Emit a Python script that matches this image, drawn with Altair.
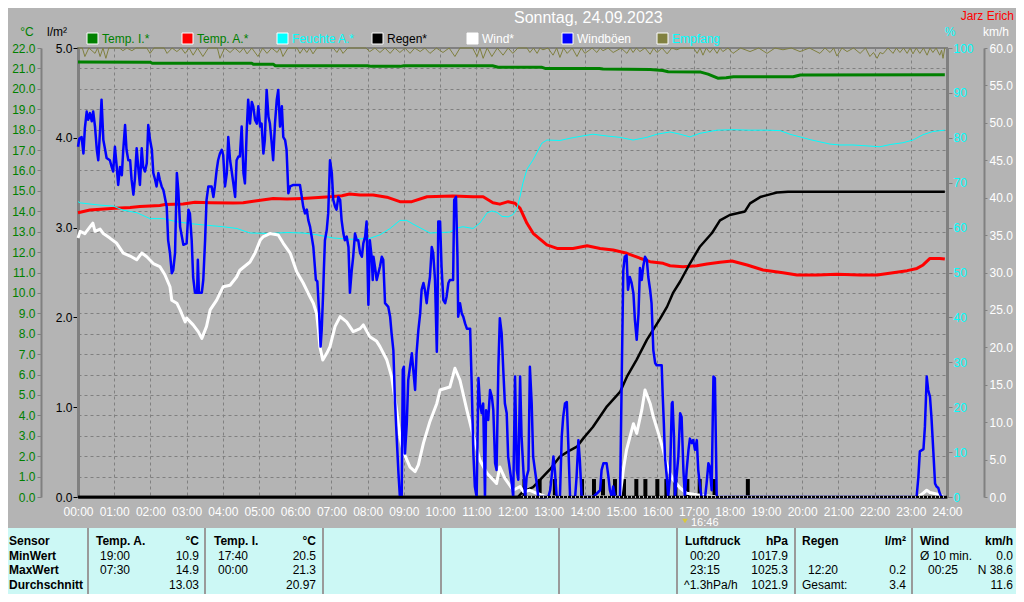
import altair as alt
import pandas as pd

# ---------------- data ----------------
hour_ticks = list(range(25))

temp_in = [(0, 21.31), (2.0, 21.3), (2.05, 21.25), (4.8, 21.25), (4.85, 21.2), (5.4, 21.2), (5.45, 21.13),
           (8.0, 21.13), (8.1, 21.1), (8.9, 21.1), (9.0, 21.13), (11.45, 21.13), (11.6, 21.06), (12.8, 21.06),
           (12.9, 21.0), (14.4, 21.0), (14.5, 20.97), (15.8, 20.95), (16.15, 20.9), (16.3, 20.84), (17.2, 20.82),
           (17.4, 20.72), (17.67, 20.52), (17.9, 20.54), (18.1, 20.59), (19.75, 20.59), (19.95, 20.68), (23.94, 20.69)]

temp_out = [(0, 13.93), (0.33, 14.06), (1.02, 14.15), (1.44, 14.18), (1.71, 14.23), (1.99, 14.26), (2.26, 14.28),
            (2.4, 14.33), (2.9, 14.36), (3.23, 14.44), (3.65, 14.42), (4.28, 14.4), (4.56, 14.42), (4.89, 14.5),
            (5.39, 14.63), (5.77, 14.6), (6.21, 14.63), (6.96, 14.71), (7.29, 14.76), (7.5, 14.85), (7.79, 14.8),
            (8.15, 14.8), (8.53, 14.69), (8.89, 14.47), (9.22, 14.47), (9.64, 14.71), (10.36, 14.75), (10.91, 14.71),
            (11.19, 14.71), (11.46, 14.42), (11.65, 14.35), (11.88, 14.47), (12.07, 14.39), (12.21, 14.14),
            (12.4, 13.41), (12.57, 12.92), (12.95, 12.35), (13.23, 12.18), (13.67, 12.18), (14.06, 12.31),
            (14.42, 12.18), (14.78, 12.1), (15.16, 11.94), (15.52, 11.7), (15.8, 11.53), (16.16, 11.45),
            (16.35, 11.33), (16.71, 11.28), (17.09, 11.33), (17.37, 11.42), (17.73, 11.5), (18.06, 11.56),
            (18.48, 11.37), (18.92, 11.12), (19.47, 10.99), (19.86, 10.88), (20.41, 10.88), (20.96, 10.91),
            (21.6, 10.88), (22.07, 10.88), (22.51, 10.99), (22.9, 11.09), (23.17, 11.2), (23.34, 11.37),
            (23.53, 11.69), (23.8, 11.69), (23.94, 11.66)]

humidity = [(0, 65.8), (0.06, 65.5), (0.61, 65.0), (0.97, 64.8), (1.24, 63.9), (1.63, 63.3), (1.99, 62.0),
            (2.35, 62.0), (2.73, 61.3), (3.09, 60.9), (3.45, 60.6), (4.0, 60.2), (4.39, 59.8), (4.75, 58.8),
            (5.3, 58.7), (5.77, 58.9), (6.21, 58.8), (6.6, 58.4), (7.04, 57.7), (7.51, 57.4), (8.06, 57.6),
            (8.34, 58.4), (8.62, 59.8), (8.89, 61.6), (9.08, 61.6), (9.25, 60.8), (9.53, 59.6), (9.72, 58.8),
            (10.0, 58.9), (10.27, 59.0), (10.47, 59.9), (10.63, 60.2), (10.91, 59.8), (11.1, 61.0), (11.3, 63.3),
            (11.43, 63.7), (11.57, 63.4), (11.71, 62.5), (11.88, 62.4), (12.01, 62.9), (12.12, 64.1),
            (12.21, 67.0), (12.29, 70.0), (12.4, 73.0), (12.57, 75.1), (12.81, 78.8), (12.95, 79.5),
            (13.31, 79.4), (13.59, 79.9), (13.86, 80.3), (14.22, 80.8), (14.61, 80.4), (14.97, 80.1),
            (15.33, 79.5), (15.71, 80.1), (15.99, 80.8), (16.35, 81.3), (16.63, 80.8), (16.9, 80.2),
            (17.18, 81.0), (17.65, 81.7), (18.09, 81.8), (18.56, 81.7), (19.03, 81.7), (19.39, 81.6),
            (19.66, 80.8), (19.94, 80.2), (20.22, 79.6), (20.49, 79.1), (20.77, 78.6), (21.04, 78.4),
            (21.4, 78.4), (21.79, 78.2), (22.15, 78.0), (22.43, 78.5), (22.78, 78.9), (23.06, 79.5),
            (23.34, 80.7), (23.61, 81.4), (23.94, 81.7)]

rain_total = [(0, 0), (12.15, 0), (12.29, 0.06), (12.57, 0.11), (12.76, 0.19), (13.04, 0.31), (13.31, 0.45),
              (13.59, 0.52), (13.78, 0.56), (13.95, 0.65), (14.22, 0.78), (14.61, 1.01), (14.97, 1.17),
              (15.16, 1.34), (15.43, 1.53), (15.71, 1.75), (16.07, 1.98), (16.27, 2.12), (16.43, 2.27),
              (16.63, 2.4), (16.9, 2.6), (17.18, 2.79), (17.51, 2.94), (17.73, 3.08), (18.0, 3.14),
              (18.42, 3.18), (18.56, 3.27), (18.84, 3.34), (19.11, 3.37), (19.3, 3.39), (19.61, 3.4), (23.94, 3.4)]

rain_bar_hours = [12.33, 12.75, 13.17, 13.92, 14.25, 14.5, 14.83, 15.08, 15.42, 15.67, 16.0, 16.25,
                  16.5, 16.83, 17.17, 17.58, 18.5]
rain_bar_values = [0.2] * 17

wind = [(0, 34.6), (0.06, 35.5), (0.19, 35.2), (0.33, 36.1), (0.41, 36.6), (0.47, 35.5), (0.61, 35.8),
        (0.7, 35.2), (0.88, 34.6), (1.07, 33.9), (1.25, 32.6), (1.44, 32.2), (1.62, 31.7), (1.76, 32.6),
        (1.9, 32.1), (2.08, 31.2), (2.26, 30.8), (2.4, 29.7), (2.54, 28.1), (2.59, 26.3), (2.73, 25.9),
        (2.82, 25.0), (2.96, 23.4), (3.0, 23.9), (3.18, 23.0), (3.32, 22.1), (3.42, 21.2), (3.55, 22.8),
        (3.65, 25.0), (3.83, 26.3), (4.01, 28.1), (4.2, 28.3), (4.38, 29.4), (4.47, 30.3), (4.75, 31.4),
        (4.89, 32.6), (5.03, 34.3), (5.12, 34.8), (5.3, 35.2), (5.53, 35.0), (5.67, 33.9), (5.86, 32.6),
        (6.04, 30.1), (6.22, 28.6), (6.36, 27.2), (6.5, 25.9), (6.59, 24.5), (6.64, 22.3), (6.68, 20.1),
        (6.76, 18.3), (6.87, 19.2), (6.96, 20.1), (7.1, 22.8), (7.24, 24.1), (7.42, 23.4), (7.6, 22.1),
        (7.79, 22.5), (7.88, 23.0), (8.06, 21.4), (8.25, 20.8), (8.34, 20.1), (8.53, 18.3), (8.66, 16.1),
        (8.8, 11.6), (8.89, 8.1), (8.98, 6.1), (9.17, 4.0), (9.31, 3.4), (9.4, 4.3), (9.54, 7.2),
        (9.72, 10.1), (9.91, 12.5), (10.0, 14.3), (10.27, 14.7), (10.41, 17.2), (10.55, 15.6), (10.74, 11.6),
        (10.92, 8.1), (11.1, 4.9), (11.29, 3.2), (11.56, 1.8), (11.65, 4.0), (11.79, 2.5), (12.02, 0.9),
        (12.21, 1.4), (12.3, 0.7), (12.48, 0.9), (12.67, 0.5), (12.94, 0), (14.91, 0), (14.97, 0.04),
        (15.06, 3.6), (15.15, 6.3), (15.34, 9.8), (15.43, 8.5), (15.57, 11.6), (15.66, 14.3), (15.8, 12.5),
        (15.89, 10.7), (16.03, 8.5), (16.16, 6.3), (16.3, 3.6), (16.44, 2.3), (16.63, 1.2), (16.81, 0.5),
        (17.09, 0.3), (17.45, 0.1), (18.19, 0), (23.2, 0), (23.34, 0.5), (23.44, 0.9), (23.53, 0.6),
        (23.8, 0.3), (23.94, 0)]

gusts = [(0, 46.8), (0.04, 47.9), (0.1, 48.1), (0.15, 45.9), (0.19, 49.3), (0.24, 51.5), (0.28, 50.4),
         (0.33, 51.3), (0.38, 50.2), (0.42, 51.5), (0.47, 49.5), (0.52, 46.4), (0.56, 45.0), (0.61, 49.0),
         (0.65, 53.1), (0.7, 47.7), (0.75, 46.4), (0.79, 45.3), (0.88, 45.0), (0.93, 44.1), (0.97, 43.5),
         (1.02, 46.8), (1.07, 44.1), (1.11, 41.7), (1.16, 44.1), (1.21, 43.0), (1.25, 46.4), (1.3, 49.7),
         (1.34, 46.4), (1.39, 45.0), (1.44, 45.0), (1.48, 42.4), (1.53, 40.4), (1.57, 42.4), (1.62, 46.6),
         (1.67, 43.7), (1.71, 41.7), (1.76, 46.6), (1.8, 44.1), (1.85, 43.5), (1.9, 44.6), (1.94, 49.7),
         (1.99, 47.7), (2.04, 46.4), (2.08, 43.3), (2.13, 42.4), (2.17, 41.5), (2.22, 43.3), (2.26, 42.4),
         (2.31, 41.5), (2.36, 41.0), (2.45, 38.8), (2.49, 34.3), (2.54, 32.6), (2.59, 29.9), (2.63, 30.3),
         (2.68, 32.6), (2.73, 43.3), (2.77, 41.0), (2.82, 36.1), (2.91, 33.7), (3.0, 33.9), (3.05, 38.4),
         (3.09, 37.9), (3.14, 34.3), (3.18, 29.4), (3.23, 27.3), (3.29, 27.3), (3.31, 31.7), (3.34, 27.3),
         (3.42, 27.3), (3.46, 29.0), (3.51, 34.3), (3.55, 39.7), (3.6, 41.5), (3.69, 41.5), (3.74, 40.1),
         (3.78, 41.5), (3.83, 43.7), (3.87, 45.0), (3.92, 45.9), (3.97, 46.4), (4.01, 45.7), (4.06, 41.5),
         (4.11, 43.3), (4.15, 48.1), (4.2, 45.0), (4.24, 43.7), (4.29, 41.9), (4.34, 40.1), (4.38, 45.0),
         (4.43, 45.5), (4.47, 45.5), (4.52, 49.5), (4.57, 43.3), (4.61, 41.9), (4.66, 49.0), (4.7, 53.1),
         (4.75, 49.9), (4.8, 52.8), (4.84, 52.2), (4.89, 50.4), (4.94, 49.9), (4.98, 52.2), (5.03, 49.5),
         (5.07, 49.9), (5.12, 45.9), (5.16, 47.7), (5.21, 54.4), (5.26, 50.8), (5.3, 49.9), (5.35, 47.3),
         (5.39, 45.0), (5.44, 49.9), (5.49, 53.1), (5.53, 54.4), (5.58, 49.5), (5.63, 52.2), (5.67, 48.1),
         (5.72, 47.7), (5.76, 46.4), (5.81, 40.6), (5.86, 41.5), (5.95, 41.7), (6.13, 41.7), (6.18, 40.1),
         (6.22, 38.8), (6.27, 37.9), (6.32, 38.4), (6.36, 37.0), (6.41, 36.1), (6.5, 33.4), (6.57, 29.0),
         (6.61, 28.8), (6.66, 24.5), (6.7, 20.1), (6.73, 22.3), (6.77, 27.2), (6.79, 30.3), (6.82, 34.3),
         (6.87, 35.7), (6.91, 37.9), (6.96, 45.0), (7.01, 43.3), (7.05, 39.7), (7.1, 38.8), (7.14, 38.4),
         (7.19, 40.1), (7.24, 39.7), (7.28, 37.0), (7.33, 35.2), (7.37, 34.3), (7.42, 34.8), (7.47, 33.4),
         (7.51, 27.3), (7.56, 30.3), (7.6, 32.1), (7.65, 35.2), (7.7, 34.3), (7.74, 34.3), (7.79, 32.6),
         (7.84, 32.1), (7.88, 33.9), (7.93, 34.8), (7.97, 36.8), (8.02, 25.7), (8.06, 34.3), (8.11, 32.1),
         (8.14, 29.0), (8.16, 32.1), (8.2, 30.8), (8.25, 29.0), (8.34, 30.8), (8.39, 32.1), (8.43, 31.7),
         (8.48, 25.9), (8.57, 25.4), (8.62, 24.1), (8.66, 21.9), (8.71, 19.6), (8.75, 13.4), (8.8, 8.1),
         (8.85, 3.2), (8.89, 0), (8.94, 0), (8.97, 17.0), (9.0, 17.4), (9.03, 5.8), (9.08, 9.8), (9.12, 15.6),
         (9.17, 17.4), (9.22, 19.2), (9.26, 17.0), (9.31, 14.3), (9.35, 19.2), (9.4, 22.3), (9.45, 24.5),
         (9.49, 27.7), (9.54, 28.6), (9.58, 27.7), (9.63, 25.9), (9.67, 27.7), (9.72, 29.4), (9.77, 33.4),
         (9.81, 32.6), (9.86, 29.0), (9.91, 19.4), (9.93, 25.0), (9.95, 36.8), (10.0, 36.8), (10.04, 30.8),
         (10.09, 26.3), (10.14, 25.9), (10.18, 26.8), (10.23, 28.6), (10.27, 29.0), (10.36, 29.0),
         (10.39, 39.7), (10.44, 40.1), (10.48, 32.1), (10.5, 24.1), (10.55, 25.9), (10.6, 24.5),
         (10.64, 24.1), (10.69, 23.2), (10.74, 22.5), (10.83, 22.5), (10.87, 15.6), (10.92, 5.8),
         (10.96, 1.4), (11.01, 0), (11.06, 15.9), (11.1, 12.5), (11.15, 11.2), (11.19, 12.5), (11.24, 0),
         (11.27, 11.6), (11.33, 10.3), (11.38, 14.3), (11.43, 13.4), (11.47, 11.6), (11.52, 4.5),
         (11.56, 3.6), (11.61, 17.4), (11.65, 23.9), (11.7, 21.9), (11.75, 16.5), (11.79, 12.5),
         (11.84, 11.2), (11.88, 5.4), (11.93, 3.6), (11.98, 1.8), (12.02, 0), (12.07, 16.1), (12.12, 3.6),
         (12.16, 2.3), (12.21, 16.1), (12.25, 8.1), (12.3, 3.6), (12.35, 0), (12.39, 2.7), (12.44, 3.6),
         (12.48, 17.4), (12.53, 12.5), (12.57, 5.4), (12.62, 3.6), (12.67, 1.8), (12.71, 0), (12.99, 0),
         (13.04, 0.9), (13.08, 2.7), (13.13, 5.4), (13.17, 3.6), (13.22, 0), (13.31, 0), (13.36, 8.1),
         (13.4, 10.7), (13.45, 12.5), (13.5, 12.7), (13.54, 7.2), (13.59, 0), (13.73, 0), (13.77, 2.7),
         (13.82, 7.6), (13.86, 4.9), (13.91, 0), (14.23, 0), (14.42, 0.9), (14.46, 3.6), (14.51, 4.5),
         (14.6, 4.5), (14.65, 2.7), (14.69, 0.9), (14.74, 0), (14.78, 1.4), (14.83, 0), (14.97, 0),
         (15.02, 17.0), (15.06, 30.3), (15.1, 32.1), (15.15, 32.3), (15.19, 27.7), (15.24, 29.4),
         (15.29, 28.6), (15.34, 27.2), (15.38, 23.7), (15.43, 21.0), (15.48, 24.5), (15.52, 30.6),
         (15.57, 29.0), (15.61, 30.8), (15.66, 32.1), (15.71, 31.7), (15.75, 29.4), (15.8, 27.7),
         (15.84, 25.9), (15.89, 19.6), (15.94, 17.9), (15.98, 17.6), (16.12, 17.6), (16.15, 13.4),
         (16.18, 9.8), (16.21, 5.4), (16.26, 2.7), (16.3, 0), (16.35, 2.7), (16.4, 12.5), (16.42, 12.7),
         (16.46, 8.1), (16.49, 0), (16.53, 2.7), (16.58, 5.4), (16.63, 11.2), (16.67, 10.7), (16.72, 3.6),
         (16.76, 0), (16.81, 3.6), (16.86, 6.3), (16.9, 7.8), (16.95, 7.2), (16.99, 7.6), (17.04, 6.3),
         (17.09, 7.6), (17.13, 3.6), (17.18, 1.4), (17.22, 0), (17.32, 0), (17.36, 1.8), (17.41, 4.5),
         (17.45, 4.0), (17.5, 0.9), (17.53, 10.3), (17.55, 16.1), (17.59, 15.9), (17.64, 0), (23.16, 0),
         (23.21, 2.7), (23.25, 6.1), (23.35, 6.4), (23.39, 9.4), (23.42, 13.4), (23.44, 16.1), (23.48, 14.3),
         (23.53, 13.4), (23.57, 10.7), (23.62, 6.3), (23.67, 1.8), (23.71, 1.4), (23.76, 1.2), (23.8, 0.5),
         (23.85, 0), (23.94, 0)]

reception = [(0, 100), (0.12, 100), (0.19, 98.1), (0.3, 100), (0.47, 98.8), (0.54, 100), (0.61, 98.1),
             (0.69, 100), (0.77, 97.7), (0.85, 100), (1.15, 100), (1.24, 99.4), (1.35, 100), (1.49, 99.4),
             (1.6, 100), (1.9, 100), (1.99, 98.8), (2.1, 100), (2.38, 100), (2.46, 98.8), (2.6, 100),
             (2.73, 99.2), (2.85, 100), (2.96, 98.8), (3.07, 100), (3.18, 98.4), (3.3, 100), (3.45, 98.1),
             (3.6, 100), (3.85, 100), (3.92, 97.7), (4.05, 100), (4.2, 99.0), (4.33, 100), (4.47, 99.0),
             (4.57, 100), (4.67, 98.7), (4.8, 100), (4.97, 98.1), (5.1, 100), (5.22, 98.8), (5.35, 100),
             (5.5, 99.0), (5.58, 100), (5.66, 98.1), (5.8, 100), (6.05, 100), (6.13, 98.8), (6.23, 100),
             (6.32, 99.0), (6.4, 100), (6.49, 98.7), (6.6, 100), (7.05, 100), (7.15, 99.0), (7.23, 100),
             (7.32, 98.8), (7.45, 100), (7.95, 100), (8.06, 99.2), (8.2, 100), (8.34, 99.0), (8.48, 100),
             (8.62, 98.8), (8.75, 100), (8.89, 99.0), (9.03, 100), (9.17, 98.8), (9.3, 100), (9.45, 99.2),
             (9.58, 100), (9.72, 98.8), (9.9, 100), (10.08, 99.0), (10.25, 100), (10.41, 98.1), (10.55, 100),
             (10.9, 100), (11.02, 98.1), (11.1, 100), (11.19, 97.7), (11.3, 100), (11.43, 98.1), (11.58, 100),
             (11.74, 98.4), (11.88, 100), (12.01, 98.8), (12.15, 100), (12.4, 100), (12.48, 99.0),
             (12.58, 100), (12.68, 98.8), (12.76, 100), (12.84, 99.6), (12.98, 100), (13.12, 98.4),
             (13.22, 100), (13.31, 97.9), (13.41, 100), (13.51, 98.8), (13.65, 100), (13.78, 98.1),
             (13.9, 100), (14.0, 98.8), (14.2, 100), (14.33, 99.0), (14.42, 100), (14.5, 99.4), (14.64, 100),
             (14.78, 99.0), (15.0, 100), (15.16, 98.8), (15.25, 100), (15.33, 99.0), (15.42, 100),
             (15.52, 99.2), (15.66, 100), (15.8, 98.6), (15.9, 100), (15.99, 99.0), (16.13, 100),
             (16.27, 98.7), (16.4, 100), (16.54, 99.6), (16.65, 100), (17.0, 100), (17.1, 98.8),
             (17.18, 100), (17.26, 98.4), (17.35, 100), (17.45, 99.0), (17.55, 100), (17.65, 98.8),
             (17.73, 100), (17.81, 99.2), (17.95, 100), (18.09, 98.8), (18.3, 100), (18.56, 99.2),
             (18.8, 100), (19.03, 98.8), (19.25, 100), (19.47, 99.6), (19.7, 100), (19.94, 99.2), (20.2, 100),
             (20.49, 98.8), (20.63, 100), (20.77, 99.0), (20.87, 100), (20.96, 98.2), (21.1, 100),
             (21.24, 99.2), (21.42, 100), (21.6, 98.8), (21.75, 100), (21.87, 98.1), (21.97, 99.0),
             (22.07, 97.7), (22.15, 99.0), (22.23, 98.7), (22.37, 100), (22.51, 98.8), (22.6, 100),
             (22.7, 99.0), (22.8, 100), (22.9, 98.8), (22.98, 100), (23.06, 98.7), (23.15, 100),
             (23.25, 98.8), (23.35, 100), (23.45, 98.4), (23.53, 100), (23.61, 99.0), (23.7, 100),
             (23.8, 98.4), (23.85, 99.5), (23.89, 97.7), (23.94, 100)]

legend_labels = ["Temp. I.*", "Temp. A.*", "Feuchte A.*", "Regen*", "Wind*", "Windböen", "Empfang"]

table_rows = ["Sensor", "MinWert", "MaxWert", "Durchschnitt"]
table_temp_a = ["Temp. A.", "°C", "19:00", "10.9", "07:30", "14.9", "", "13.03"]
table_temp_i = ["Temp. I.", "°C", "17:40", "20.5", "00:00", "21.3", "", "20.97"]
table_press = ["Luftdruck", "hPa", "00:20", "1017.9", "23:15", "1025.3", "^1.3hPa/h", "1021.9"]
table_rain = ["Regen", "l/m²", "", "", "12:20", "0.2", "Gesamt:", "3.4"]
table_wind = ["Wind", "km/h", "Ø 10 min.", "0.0", "00:25", "N 38.6", "", "11.6"]

# ---------------- styling / layout ----------------
FONT = "Liberation Sans"
BG = "#b4b4b4"
GRID = "#808080"
GREEN = "#008000"
CYAN = "#00ffff"
OLIVE = "#808040"
W, H = 869, 449
X0, Y0 = 78, 48          # page position of the plot origin
one = pd.DataFrame({"k": [0]})


def frame(pairs):
    return pd.DataFrame(pairs, columns=["h", "v"])


x_enc = alt.X(
    "h:Q",
    scale=alt.Scale(domain=[0, 24], nice=False, zero=False),
    axis=alt.Axis(values=hour_ticks, labelExpr="(datum.value < 10 ? '0' : '') + datum.value + ':00'",
                  grid=True, gridColor=GRID, gridDash=[3, 3], gridWidth=1, ticks=False,
                  domainColor="black", domainWidth=2, labelColor="white", labelFontSize=12,
                  labelPadding=9, labelFont=FONT, labelFlush=False, labelOverlap=False, title=None),
)


def yenc(domain, axis=None):
    return alt.Y("v:Q", scale=alt.Scale(domain=domain, nice=False, zero=False), axis=axis)


def series(pairs, color, width, domain, axis=None):
    return alt.Chart(frame(pairs)).mark_line(
        color=color, strokeWidth=width, strokeJoin="round", interpolate="linear"
    ).encode(x=x_enc, y=yenc(domain, axis))


grid_axis = alt.Axis(orient="left", offset=0, values=list(range(23)), grid=True, gridColor=GRID,
                     gridDash=[3, 3], labels=False, ticks=False, domain=False, title=None)
temp_axis = alt.Axis(orient="left", offset=37, values=list(range(23)), format=".1f", labelColor=GREEN,
                     domainColor=GRID, domainWidth=2, tickColor=GRID, tickSize=4, labelPadding=2,
                     grid=False, title=None, labelFontSize=12, labelFont=FONT, labelFlush=False,
                     labelOverlap=False)
rain_axis = alt.Axis(orient="left", offset=0, values=list(range(6)), format=".1f", labelColor="black",
                     domainColor=GRID, domainWidth=3, tickColor="black", tickSize=5, labelPadding=1,
                     grid=False, title=None, labelFontSize=12, labelFont=FONT, labelFlush=False)
hum_axis = alt.Axis(orient="right", offset=0, values=list(range(0, 101, 10)), labelColor=CYAN,
                    domainColor=GRID, domainWidth=3, tickColor=GRID, tickSize=5, labelPadding=1,
                    grid=False, title=None, labelFontSize=12, labelFont=FONT, labelFlush=False)
wind_axis = alt.Axis(orient="right", offset=37, values=list(range(0, 61, 5)), format=".1f",
                     labelColor="white", domainColor=GRID, domainWidth=2, tickColor=GRID, tickSize=3,
                     labelPadding=2, grid=False, title=None, labelFontSize=12, labelFont=FONT,
                     labelFlush=False, labelOverlap=False)

one_h = 24.0 / W  # hours per pixel (for the dotted base line start)

layers = []
layers.append(series(temp_in, GREEN, 3, [0, 22], grid_axis))
layers.append(series(temp_out, "red", 3, [0, 22], temp_axis))
layers.append(series(humidity, CYAN, 1, [0, 100], hum_axis))
layers.append(series(rain_total, "black", 2.5, [0, 5], rain_axis))
layers.append(
    alt.Chart(pd.DataFrame({"h": rain_bar_hours, "v": rain_bar_values}))
    .mark_rule(color="black", strokeWidth=4)
    .encode(x=x_enc, y=yenc([0, 5]), y2=alt.datum(0))
)
layers.append(series(wind, "white", 3, [0, 60], wind_axis))
layers.append(series(gusts, "#0000ff", 2.5, [0, 60]))

# base line of the plot drawn over the zero-valued parts of the series
layers.append(alt.Chart(one).mark_rule(color="black", strokeWidth=2.5)
              .encode(x=alt.value(0), x2=alt.value(W), y=alt.value(H)))
layers.append(alt.Chart(one).mark_rule(color="white", strokeWidth=1.5, strokeDash=[1, 3])
              .encode(x=alt.value(445), x2=alt.value(W - 2), y=alt.value(H)))

layers.append(series(reception, OLIVE, 1, [0, 100]))


def text(px, py, s, color, size=12, bold=False, align="left", baseline="middle"):
    return alt.Chart(one).mark_text(
        text=s, color=color, fontSize=size, font=FONT, fontWeight="bold" if bold else "normal",
        align=align, baseline=baseline
    ).encode(x=alt.value(px - X0), y=alt.value(py - Y0))


def rect(x1, y1, x2, y2, fill, stroke=None):
    if stroke:
        m = alt.Chart(one).mark_rect(fill=fill, stroke=stroke, strokeWidth=1)
    else:
        m = alt.Chart(one).mark_rect(fill=fill)
    return m.encode(x=alt.value(x1 - X0), x2=alt.value(x2 - X0), y=alt.value(y1 - Y0), y2=alt.value(y2 - Y0))


def vrule(px, y1, y2, color, width):
    return alt.Chart(one).mark_rule(color=color, strokeWidth=width).encode(
        x=alt.value(px - X0), y=alt.value(y1 - Y0), y2=alt.value(y2 - Y0))


# title, author, unit labels
layers.append(text(514, 18, "Sonntag, 24.09.2023", "white", size=16))
layers.append(text(1014, 16, "Jarz Erich", "red", size=12, align="right"))
layers.append(text(27, 32, "°C", GREEN, align="center"))
layers.append(text(57, 32, "l/m²", "black", align="center"))
layers.append(text(950, 32, "%", CYAN, align="center"))
layers.append(text(996, 32, "km/h", "white", align="center"))

# legend row
box_fill = [GREEN, "red", CYAN, "black", "white", "#0000ff", OLIVE]
label_col = [GREEN, GREEN, CYAN, "black", "white", "white", CYAN]
for i, lab in enumerate(legend_labels):
    bx = 87 + 95 * i
    layers.append(rect(bx, 33, bx + 11, 44, box_fill[i], stroke="white"))
    layers.append(text(bx + 15, 39, lab, label_col[i]))

# sunset marker
layers.append(alt.Chart(one).mark_point(shape="triangle-down", filled=True, color="#e8d000", size=30)
              .encode(x=alt.value(685 - X0), y=alt.value(521 - Y0)))
layers.append(text(691, 523, "16:46", "white", size=11))

# statistics table
layers.append(rect(0, 528, 1030, 610, "#ccf8f5"))
for dx in [88, 205, 323, 441, 559, 677, 795, 912]:
    layers.append(vrule(dx, 528, 610, "#9a9a9a", 2))
row_y = [541, 555.5, 570, 584.5]
for r, lab in enumerate(table_rows):
    layers.append(text(9, row_y[r], lab, "black", bold=True))


def table_block(cells, lx, rx, tx):
    out = []
    out.append(text(lx, row_y[0], cells[0], "black", bold=True))
    out.append(text(rx, row_y[0], cells[1], "black", bold=True, align="right"))
    for r in range(3):
        left, right = cells[2 + 2 * r], cells[3 + 2 * r]
        if left:
            out.append(text(tx[r], row_y[r + 1], left, "black"))
        if right:
            out.append(text(rx, row_y[r + 1], right, "black", align="right"))
    return out


layers += table_block(table_temp_a, 96, 199, [100, 100, 100])
layers += table_block(table_temp_i, 214, 316, [218, 218, 218])
layers += table_block(table_press, 685, 788, [690, 690, 684])
layers += table_block(table_rain, 802, 906, [808, 808, 802])
layers += table_block(table_wind, 920, 1013, [920, 928, 920])

chart = (
    alt.layer(*layers)
    .resolve_scale(y="independent")
    .properties(width=W, height=H, background=BG,
                padding={"left": 70, "top": 40, "right": 69, "bottom": 97},
                autosize=alt.AutoSizeParams(type="none"))
    .configure_view(stroke=GRID, strokeWidth=2)
    .configure_text(font=FONT)
)

chart.save("out.html", embed_options={"renderer": "svg", "actions": False})
